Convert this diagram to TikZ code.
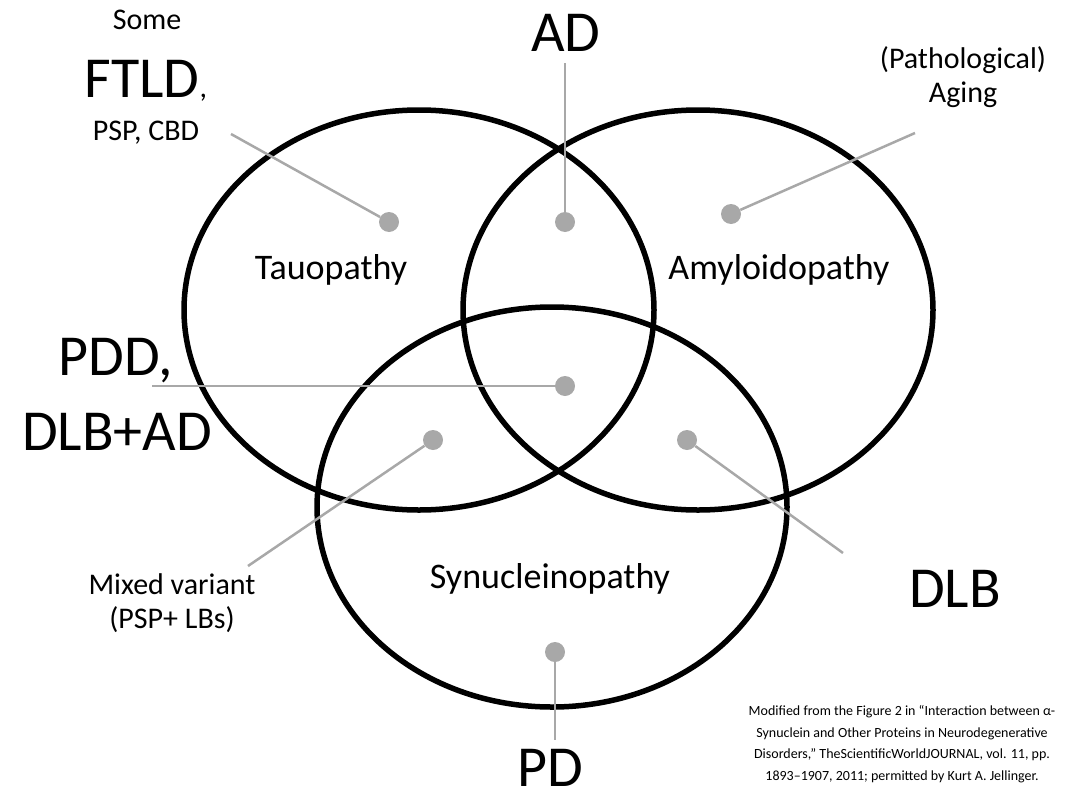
\documentclass[tikz,border=0pt]{standalone}
\usepackage{fontspec}
\setmainfont{Carlito}
\usetikzlibrary{positioning}
\definecolor{leadgray}{RGB}{168,168,168}

\begin{document}
\begin{tikzpicture}[x=1pt,y=-1pt,
  region/.style={draw=black,line width=5.5pt},
  dot/.style={circle,fill=leadgray,inner sep=0pt,minimum size=20pt},
  lead/.style={draw=leadgray,line width=2.5pt},
  bigtext/.style={anchor=base,font=\fontsize{58}{62}\selectfont},
  smalltext/.style={anchor=base,align=center,font=\fontsize{30}{34}\selectfont},
  zonetext/.style={anchor=base,font=\fontsize{36}{40}\selectfont}]
  \useasboundingbox (0,0) rectangle (1070,792);
  \draw[region](419,310) ellipse [x radius=235pt, y radius=200pt];
  \draw[region](698,310) ellipse [x radius=235pt, y radius=200pt];
  \draw[region](552,507) ellipse [x radius=235pt, y radius=200pt];

  \node[zonetext](tauo) at (331,279) {Tauopathy};
  \node[zonetext](amyl) at (779,279) {Amyloidopathy};
  \node[zonetext](synu) at (550,588) {Synucleinopathy};

  \node[dot](dtau) at (389,222) {};
  \node[dot](dad) at (565,222) {};
  \node[dot](damy) at (731,214) {};
  \node[dot](dcore) at (565,386) {};
  \node[dot](dmix) at (433,440) {};
  \node[dot](ddlb) at (687,440) {};
  \node[dot](dpd) at (555,652) {};

  \node[smalltext](some) at (147,30) {Some};
  \node[bigtext](ftld) at (146,97) {FTLD{\fontsize{30}{34}\selectfont,}};
  \node[smalltext](psp) at (146,140) {PSP, CBD};
  \node[bigtext](ad) at (566,52) {AD};
  \node[smalltext](aging) at (963,102) {(Pathological)\\Aging};
  \node[bigtext](pdd) at (116,375) {PDD,};
  \node[bigtext](dlbad) at (117,450) {DLB+AD};
  \node[smalltext](mixed) at (172,628) {Mixed variant\\(PSP+ LBs)};
  \node[bigtext](dlb) at (955,607) {DLB};
  \node[bigtext,inner sep=0pt](pd) at (550,786) {PD};

  \coordinate(eftld) at (231,134);
  \coordinate(ead) at (565,63);
  \coordinate(eaging) at (915,133);
  \coordinate(epdd) at (152,386);
  \coordinate(emixed) at (248,566);
  \coordinate(edlb) at (843,553);
  \coordinate(epd) at (555,740);
  \draw[lead](dtau)--(eftld);
  \draw[lead](dad)--(ead);
  \draw[lead](damy)--(eaging);
  \draw[lead](dcore)--(epdd);
  \draw[lead](dmix)--(emixed);
  \draw[lead](ddlb)--(edlb);
  \draw[lead](dpd)--(epd);

  \node[anchor=base,align=center,font=\fontsize{14}{21.5}\selectfont](note) at (902,780)
    {Modified from the Figure 2 in “Interaction between α-\\
     Synuclein and Other Proteins in Neurodegenerative\\
     Disorders,” TheScientificWorldJOURNAL, vol. 11, pp.\\
     1893–1907, 2011; permitted by Kurt A. Jellinger.};
\end{tikzpicture}
\end{document}
